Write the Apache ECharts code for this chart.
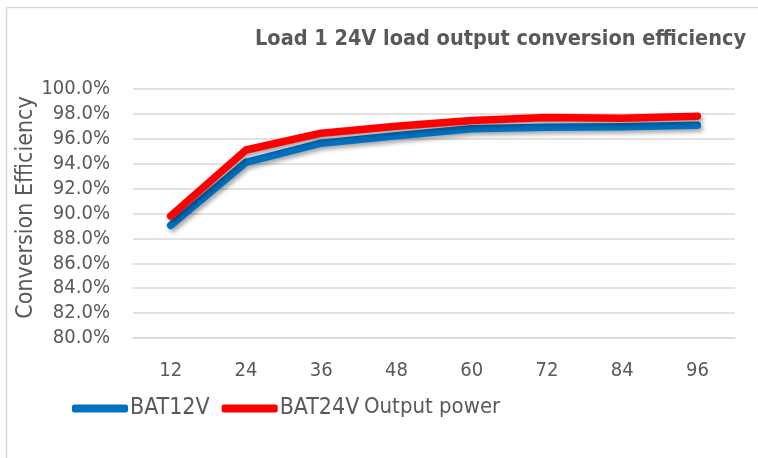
<!DOCTYPE html>
<html>
<head>
<meta charset="utf-8">
<script src="https://cdn.jsdelivr.net/npm/echarts@6/dist/echarts.min.js"></script>
<style>
  html, body { margin: 0; padding: 0; background: #fff; }
  #chart { width: 758px; height: 458px; }
</style>
</head>
<body>
<div id="chart"></div>
<script>
// Output power steps (W) on the category axis
const outputPower = ['12', '24', '36', '48', '60', '72', '84', '96'];
// Conversion efficiency (%) per battery voltage
const bat12v = [89.05, 94.1, 95.65, 96.25, 96.8, 96.92, 96.97, 97.08];
const bat24v = [89.8, 95.1, 96.45, 97.0, 97.47, 97.72, 97.66, 97.82];
const seriesNames = ['BAT12V', 'BAT24V'];
const titleText = 'Load 1 24V load output conversion efficiency';
const yAxisTitle = 'Conversion Efficiency';
const xAxisTitle = 'Output power';

const FONT = '"DejaVu Sans Condensed", "Liberation Sans", sans-serif';
const TEXT_GREY = '#595959';

const chart = echarts.init(document.getElementById('chart'), null, { renderer: 'canvas' });

function lineSeries(name, data, color) {
  return {
    name: name,
    type: 'line',
    data: data,
    symbol: 'none',
    lineStyle: {
      color: color,
      width: 7.5,
      cap: 'round',
      join: 'round',
      shadowColor: 'rgba(0,0,0,0.35)',
      shadowBlur: 4,
      shadowOffsetX: 2,
      shadowOffsetY: 3
    },
    itemStyle: { color: color },
    emphasis: { disabled: true },
    animation: false
  };
}

chart.setOption({
  animation: false,
  backgroundColor: '#fff',
  title: {
    text: titleText,
    right: 12,
    top: 28,
    padding: 0,
    textStyle: { fontFamily: FONT, fontSize: 21.5, fontWeight: 'bold', color: TEXT_GREY }
  },
  legend: {
    data: seriesNames,
    left: 72,
    top: 397,
    padding: 0,
    icon: 'roundRect',
    itemWidth: 56,
    itemHeight: 8,
    itemGap: 12,
    textStyle: { fontFamily: FONT, fontSize: 23, color: TEXT_GREY, padding: [0, 0, 0, -3] }
  },
  grid: { left: 133, right: 23, top: 89, bottom: 120, containLabel: false },
  xAxis: {
    type: 'category',
    data: outputPower,
    boundaryGap: true,
    axisLine: { show: true, lineStyle: { color: '#D9D9D9', width: 1.5 } },
    axisTick: { show: false },
    axisLabel: { fontFamily: FONT, fontSize: 20, color: TEXT_GREY, margin: 23 }
  },
  yAxis: {
    type: 'value',
    min: 80,
    max: 100,
    interval: 2,
    name: yAxisTitle,
    nameLocation: 'middle',
    nameGap: 95,
    nameRotate: 90,
    nameMoveOverlap: false,
    nameTextStyle: { fontFamily: FONT, fontSize: 23, color: TEXT_GREY, padding: [0, 0, 0, 12] },
    axisLine: { show: false },
    axisTick: { show: false },
    splitLine: { lineStyle: { color: '#D9D9D9', width: 1.5 } },
    axisLabel: {
      fontFamily: FONT, fontSize: 20, color: TEXT_GREY, margin: 23,
      formatter: v => v.toFixed(1) + '%'
    }
  },
  graphic: [
    {
      type: 'rect',
      silent: true,
      shape: { x: 6.5, y: 7.5, width: 800, height: 500 },
      style: { fill: 'none', stroke: '#D9D9D9', lineWidth: 1.5 },
      z: -1
    },
    {
      type: 'text',
      left: 364,
      top: 396,
      style: { text: xAxisTitle, fontFamily: FONT, fontSize: 22, fill: TEXT_GREY }
    }
  ],
  series: [
    lineSeries(seriesNames[0], bat12v, '#0070C0'),
    lineSeries(seriesNames[1], bat24v, '#FF0000')
  ]
});
</script>
</body>
</html>
